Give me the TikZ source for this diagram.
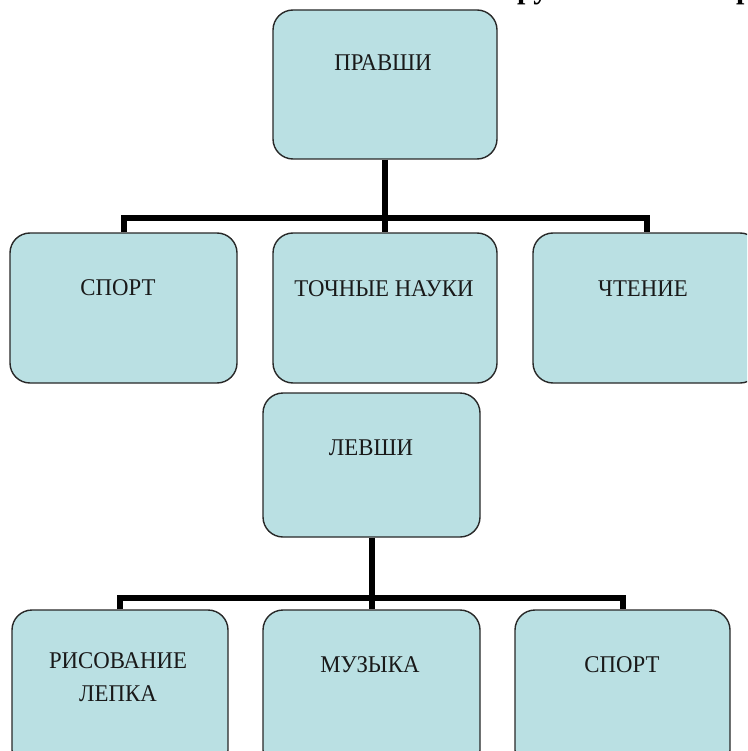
\documentclass[tikz,border=0pt]{standalone}
\usepackage{fontspec}
\setmainfont{Liberation Serif}
\newfontfamily\boxfont[FakeStretch=0.95]{Liberation Serif}
\definecolor{boxfill}{RGB}{186,224,227}
\definecolor{boxline}{RGB}{40,40,40}
\tikzset{
  box/.style={draw=boxline, line width=1.4pt, fill=boxfill, rounded corners=20pt, rectangle, inner sep=0pt},
  txt/.style={inner sep=0pt, font=\boxfont\fontsize{24}{33}\selectfont, text=black!90},
  conn/.style={draw=black, line width=6pt},
  ttl/.style={inner sep=0pt, anchor=base west, font=\fontsize{30}{34}\selectfont\bfseries}
}
\begin{document}
\begin{tikzpicture}[x=1pt,y=-1pt]
\useasboundingbox (0,0) rectangle (747,751);
\clip (0,0) rectangle (747,751);
\fill[white] (0,0) rectangle (747,751);
% cut-off title fragments
\node[ttl] (ttla) at (517,-1) {ру};
\node[ttl] (ttlb) at (736,-1) {р};
% right-handed
\node[box, minimum width=224pt, minimum height=149pt] (p) at (385,84.5) {};
\node[txt] (pt) at (383,63) {ПРАВШИ};
\node[box, minimum width=227pt, minimum height=150pt] (a1) at (123.5,308) {};
\node[box, minimum width=224pt, minimum height=150pt] (a2) at (385,308) {};
\node[box, minimum width=227pt, minimum height=150pt] (a3) at (646.5,308) {};
\node[txt] (a1t) at (118,288) {СПОРТ};
\node[txt] (a2t) at (384,289) {ТОЧНЫЕ НАУКИ};
\node[txt] (a3t) at (643,289) {ЧТЕНИЕ};
\coordinate (ba) at (385,218);
\draw[conn] (p.south) -- (ba);
\draw[conn] (a1.north) |- (ba) -| (a3.north);
\draw[conn] (ba) -- (a2.north);
% left-handed
\node[box, minimum width=217pt, minimum height=144pt] (l) at (371.5,465) {};
\node[txt] (lt) at (371,448) {ЛЕВШИ};
\node[box, minimum width=216pt, minimum height=160pt] (b1) at (120,690) {};
\node[box, minimum width=217pt, minimum height=160pt] (b2) at (371.5,690) {};
\node[box, minimum width=215pt, minimum height=160pt] (b3) at (622.5,690) {};
\node[txt, align=center] (b1t) at (118,677) {РИСОВАНИЕ\\ЛЕПКА};
\node[txt] (b2t) at (370,665) {МУЗЫКА};
\node[txt] (b3t) at (622,665) {СПОРТ};
\coordinate (bb) at (371.5,598);
\draw[conn] (l.south) -- (bb);
\draw[conn] (b1.north) |- (bb) -| (b3.north);
\draw[conn] (bb) -- (b2.north);
\end{tikzpicture}
\end{document}
